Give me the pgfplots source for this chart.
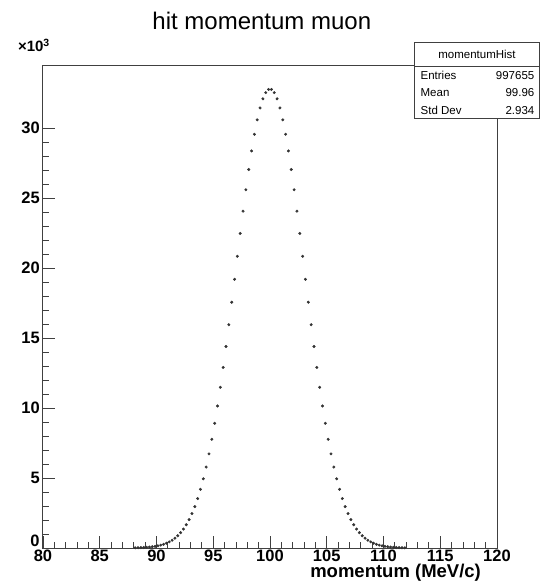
\documentclass[border=0pt]{standalone}
\usepackage{pgfplots}
\pgfplotsset{compat=1.18}
\usepackage{pgfplotstable}
\usepackage{fontspec}
\setmainfont{Liberation Sans}

% hit momentum, 0.25 MeV/c bins
\pgfplotstableread{
x y
88.125 14
88.375 20
88.625 27
88.875 37
89.125 50
89.375 67
89.625 90
89.875 119
90.125 156
90.375 204
90.625 265
90.875 342
91.125 437
91.375 555
91.625 701
91.875 879
92.125 1095
92.375 1354
92.625 1663
92.875 2028
93.125 2458
93.375 2957
93.625 3534
93.875 4194
94.125 4944
94.375 5788
94.625 6729
94.875 7772
95.125 8914
95.375 10153
95.625 11486
95.875 12905
96.125 14400
96.375 15959
96.625 17566
96.875 19203
97.125 20849
97.375 22481
97.625 24076
97.875 25607
98.125 27050
98.375 28380
98.625 29570
98.875 30601
99.125 31452
99.375 32105
99.625 32548
99.875 32772
100.125 32772
100.375 32548
100.625 32105
100.875 31452
101.125 30601
101.375 29570
101.625 28380
101.875 27050
102.125 25607
102.375 24076
102.625 22481
102.875 20849
103.125 19203
103.375 17566
103.625 15959
103.875 14400
104.125 12905
104.375 11486
104.625 10153
104.875 8914
105.125 7772
105.375 6729
105.625 5788
105.875 4944
106.125 4194
106.375 3534
106.625 2957
106.875 2458
107.125 2028
107.375 1663
107.625 1354
107.875 1095
108.125 879
108.375 701
108.625 555
108.875 437
109.125 342
109.375 265
109.625 204
109.875 156
110.125 119
110.375 90
110.625 67
110.875 50
111.125 37
111.375 27
111.625 20
111.875 14
}\momentum

\begin{document}
\begin{tikzpicture}
\begin{axis}[
    scale only axis,
    width=454pt,
    height=482pt,
    at={(0,0)},
    anchor=south west,
    xmin=80, xmax=120,
    ymin=0, ymax=34450,
    xtick={80,85,...,120},
    minor x tick num=4,
    ytick={0,5000,...,30000},
    yticklabels={{},5,10,15,20,25,30},
    minor y tick num=4,
    scaled y ticks=false,
    tick pos=left,
    tick align=inside,
    tick style={black!75, line width=0.9pt},
    major tick length=12pt,
    minor tick length=6pt,
    axis line style={black!75, line width=1pt},
    /pgf/number format/assume math mode=true,
    ticklabel style={font=\fontsize{16.5}{16.5}\selectfont\bfseries},
    xticklabel style={inner sep=0pt, yshift=-1.5pt},
    yticklabel style={inner sep=2pt, xshift=-1pt},
    clip=false,
]
\addplot[only marks, mark=*, mark size=1.3pt, black!80] table {\momentum};

\node[font=\fontsize{16.5}{16.5}\selectfont\bfseries, anchor=south east, inner sep=0pt] at (rel axis cs:-0.007,0.002) {0};
\node[font=\fontsize{24}{24}\selectfont] at (rel axis cs:0.482,1.093) {hit momentum muon};
\node[font=\fontsize{15}{15}\selectfont\bfseries] at (rel axis cs:-0.02,1.042) {×10\textsuperscript{3}};
\node[font=\fontsize{18.5}{18.5}\selectfont\bfseries, anchor=north east, inner sep=0pt] at (rel axis cs:0.965,-0.034) {momentum (MeV/c)};

% stats box
\draw[black!75, line width=0.8pt, fill=white] (rel axis cs:0.819,0.892) rectangle (rel axis cs:1.0925,1.0498);
\draw[black!75, line width=0.8pt] (rel axis cs:0.819,1.0) -- (rel axis cs:1.0925,1.0);
\node[font=\fontsize{11.5}{11.5}\selectfont] at (rel axis cs:0.956,1.024) {momentumHist};
\node[font=\fontsize{11.5}{11.5}\selectfont, anchor=west] at (rel axis cs:0.824,0.981) {Entries};
\node[font=\fontsize{11.5}{11.5}\selectfont, anchor=east] at (rel axis cs:1.09,0.981) {997655};
\node[font=\fontsize{11.5}{11.5}\selectfont, anchor=west] at (rel axis cs:0.824,0.944) {Mean};
\node[font=\fontsize{11.5}{11.5}\selectfont, anchor=east] at (rel axis cs:1.09,0.944) {99.96};
\node[font=\fontsize{11.5}{11.5}\selectfont, anchor=west] at (rel axis cs:0.824,0.907) {Std Dev};
\node[font=\fontsize{11.5}{11.5}\selectfont, anchor=east] at (rel axis cs:1.09,0.907) {2.934};
\end{axis}
\pgfresetboundingbox
\useasboundingbox (-43pt,-37pt) rectangle (498pt,548pt);
\end{tikzpicture}
\end{document}
